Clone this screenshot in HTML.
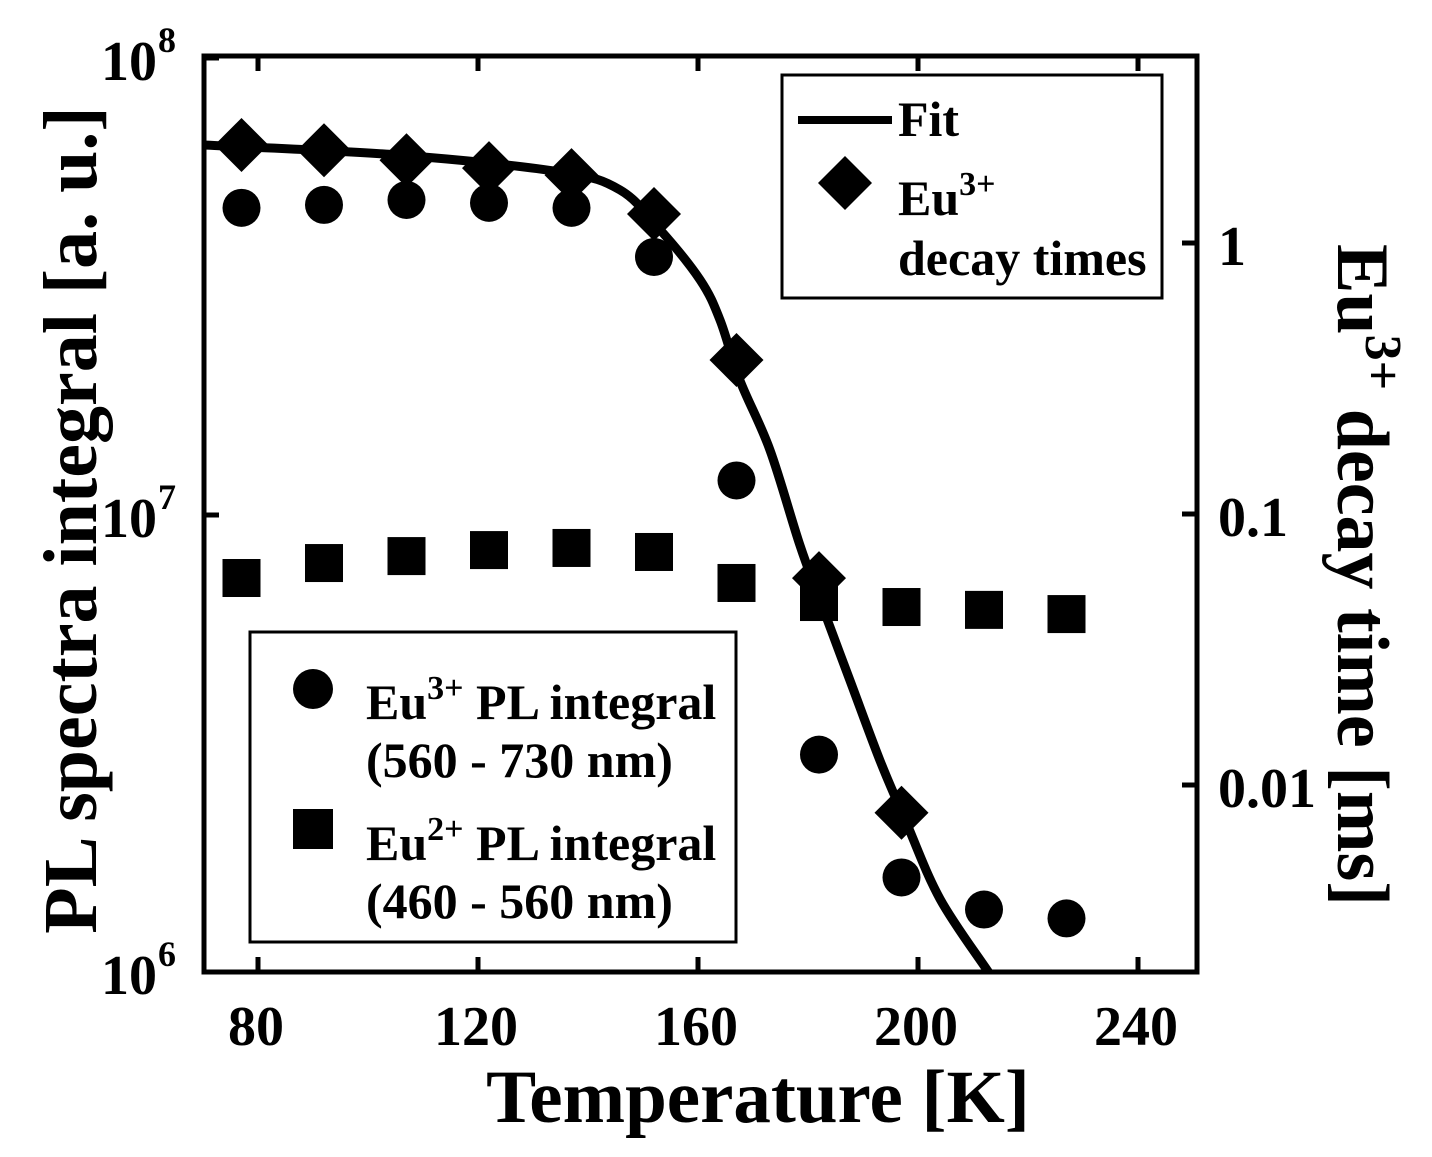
<!DOCTYPE html>
<html><head><meta charset="utf-8"><style>
body{margin:0;background:#fff}
svg text{font-family:"Liberation Serif",serif;font-weight:bold;fill:#000}
</style></head><body>
<svg width="1432" height="1152" viewBox="0 0 1432 1152">
<defs><clipPath id="pa"><rect x="204" y="56" width="993" height="916"/></clipPath></defs>
<g id="marks" clip-path="url(#pa)"></g>
<g id="axes"></g>
<text x="758" y="1122" font-size="75" text-anchor="middle">Temperature [K]</text>
<text transform="translate(96,520) rotate(-90)" font-size="76" text-anchor="middle">PL spectra integral [a. u.]</text>
<text transform="translate(1338,575) rotate(90)" font-size="74" text-anchor="middle">Eu<tspan dy="-28" font-size="52">3+</tspan><tspan dy="28"> decay time [ms]</tspan></text>
<g>
<rect x="782" y="75" width="380" height="223" fill="#fff" stroke="#000" stroke-width="3"/>
<line x1="798" y1="120" x2="892" y2="120" stroke="#000" stroke-width="8"/>
<text x="898" y="136" font-size="50">Fit</text>
<path d="M845,156 L872,183 L845,210 L818,183Z"/>
<text x="898" y="215" font-size="50">Eu<tspan dy="-20" font-size="34">3+</tspan></text>
<text x="898" y="275" font-size="50">decay times</text>
</g>
<g>
<rect x="250" y="632" width="486" height="310" fill="#fff" stroke="#000" stroke-width="3"/>
<circle cx="313" cy="689" r="20"/>
<text x="366" y="719" font-size="50">Eu<tspan dy="-20" font-size="34">3+</tspan><tspan dy="20"> PL integral</tspan></text>
<text x="366" y="777" font-size="50">(560 - 730 nm)</text>
<rect x="293" y="809" width="40" height="40"/>
<text x="366" y="860" font-size="50">Eu<tspan dy="-20" font-size="34">2+</tspan><tspan dy="20"> PL integral</tspan></text>
<text x="366" y="918" font-size="50">(460 - 560 nm)</text>
</g>
</svg>
<script>
const temps=[77,92,107,122,137,152,167,182,197,212,227];
const eu3PL=[4.70e7,4.77e7,4.89e7,4.82e7,4.70e7,3.67e7,1.19e7,2.99e6,1.61e6,1.37e6,1.31e6];
const eu2PL=[7.28e6,7.85e6,8.13e6,8.38e6,8.47e6,8.30e6,7.10e6,6.45e6,6.29e6,6.20e6,6.07e6];
const decayT=[77,92,107,122,137,152,167,182,197];
const decayVals=[2.30,2.20,2.02,1.89,1.78,1.28,0.370,0.058,0.0079];
const fitT=[70,105.8,134.9,145.8,153.1,160.4,164,167.6,173.1,178.5,182.2,187.6,193.1,197.6,204,213.1,216];
const fitVals=[2.30,2.11,1.83,1.57,1.12,0.73,0.52,0.312,0.172,0.077,0.048,0.0244,0.0123,0.0075,0.0038,0.0020,0.0016];
const xTicks=[80,120,160,200,240];
const NS="http://www.w3.org/2000/svg";
const X=t=>258+(t-80)*5.5;
const YL=v=>58+(8-Math.log10(v))*457;
const YR=v=>243-Math.log10(v)*271;
const marks=document.getElementById('marks'),axes=document.getElementById('axes');
function mk(p,tag,a){const e=document.createElementNS(NS,tag);for(const k in a)e.setAttribute(k,a[k]);p.appendChild(e);return e;}
const P=fitT.map((t,i)=>[X(t),YR(fitVals[i])]);
let d='M'+P[0][0]+','+P[0][1];
for(let i=0;i<P.length-1;i++){
 const p0=P[Math.max(0,i-1)],p1=P[i],p2=P[i+1],p3=P[Math.min(P.length-1,i+2)];
 const c1=[p1[0]+(p2[0]-p0[0])/6,p1[1]+(p2[1]-p0[1])/6],c2=[p2[0]-(p3[0]-p1[0])/6,p2[1]-(p3[1]-p1[1])/6];
 d+=` C${c1[0].toFixed(1)},${c1[1].toFixed(1)} ${c2[0].toFixed(1)},${c2[1].toFixed(1)} ${p2[0].toFixed(1)},${p2[1].toFixed(1)}`;
}
const fl=mk(marks,'path',{d:d,fill:'none',stroke:'#000','stroke-width':9,'stroke-linejoin':'round'});


temps.forEach((t,i)=>{
 const c=mk(marks,'circle',{cx:X(t),cy:YL(eu3PL[i]),r:19});
 
 
 const s=mk(marks,'rect',{x:X(t)-19,y:YL(eu2PL[i])-19,width:38,height:38});
 
 
});
decayT.forEach((t,i)=>{
 const x=X(t),y=YR(decayVals[i]);
 const p=mk(marks,'path',{d:`M${x},${y-27} L${x+27},${y} L${x},${y+27} L${x-27},${y}Z`});
 
 
});
mk(axes,'rect',{x:204,y:56,width:993,height:916,fill:'none',stroke:'#000','stroke-width':5});
xTicks.forEach(t=>{
 mk(axes,'line',{x1:X(t),y1:972,x2:X(t),y2:957,stroke:'#000','stroke-width':5});
 mk(axes,'line',{x1:X(t),y1:56,x2:X(t),y2:71,stroke:'#000','stroke-width':5});
 const tx=mk(axes,'text',{x:X(t)-2,y:1045,'font-size':56,'text-anchor':'middle'});tx.textContent=t;
 
 
});
[[1e8,'8'],[1e7,'7'],[1e6,'6']].forEach(([v,e])=>{
 const y=YL(v);
 mk(axes,'line',{x1:204,y1:y,x2:219,y2:y,stroke:'#000','stroke-width':5});
 const tx=mk(axes,'text',{x:157,y:y+22,'font-size':56,'text-anchor':'end'});
 tx.textContent='10';
 
 
 const ex=mk(axes,'text',{x:158,y:y-6,'font-size':36});
 ex.textContent=e;
 
 
});
[[1,'1'],[0.1,'0.1'],[0.01,'0.01']].forEach(([v,l])=>{
 const y=YR(v);
 mk(axes,'line',{x1:1197,y1:y,x2:1182,y2:y,stroke:'#000','stroke-width':5});
 const tx=mk(axes,'text',{x:1218,y:y+22,'font-size':56});tx.textContent=l;
 
 
});
</script>
</body></html>
